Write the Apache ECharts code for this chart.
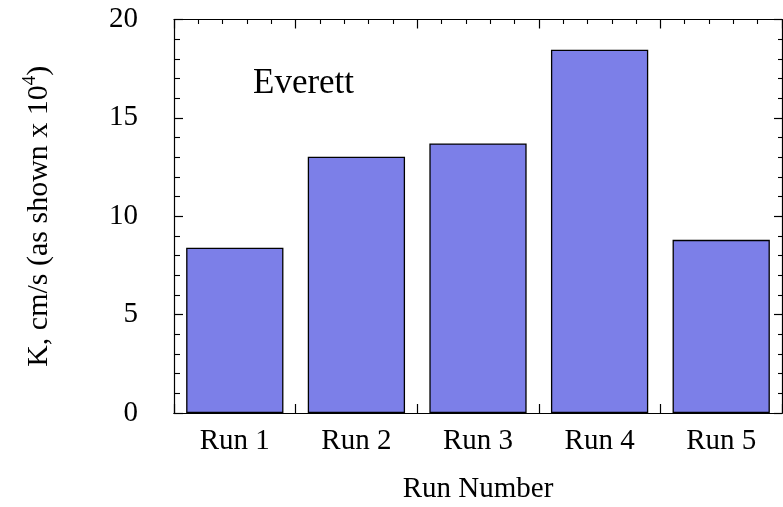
<!DOCTYPE html>
<html>
<head>
<meta charset="utf-8">
<script src="https://cdn.jsdelivr.net/npm/echarts@6/dist/echarts.min.js"></script>
<style>
  html, body { margin: 0; padding: 0; background: #fff; }
  #chart { width: 783px; height: 507px; }
</style>
</head>
<body>
<div id="chart"></div>
<script>
// Hydraulic conductivity per run (cm/s, values x 10^4)
const runs = ['Run 1', 'Run 2', 'Run 3', 'Run 4', 'Run 5'];
const conductivity = [8.4, 13.03, 13.7, 18.46, 8.8];
const yTicks = { min: 0, max: 20, step: 5 };
const siteName = 'Everett';

const serif = '"Liberation Serif", "DejaVu Serif", serif';
const ink = '#000';
// both grids share one fixed plot rectangle; outer bounds must not shrink it
const gridBox = { left: 174, top: 19.5, right: 1, bottom: 94, containLabel: false, outerBoundsMode: 'none' };

const chart = echarts.init(document.getElementById('chart'), null, { renderer: 'canvas' });

// frame lines stay on their own edge (no snapping to the other axis' zero)
const frameAxisLine = { show: true, onZero: false, lineStyle: { color: ink, width: 1.2 } };

// inward-pointing major and minor ticks
function ticks(major, minor) {
  return {
    axisTick: { show: true, inside: true, length: major, lineStyle: { color: ink, width: 1.2 } },
    minorTick: { show: true, splitNumber: 5, length: minor, lineStyle: { color: ink, width: 1.1 } }
  };
}

// plain axis used only as a frame edge / tick carrier
function frameAxis(extra) {
  return Object.assign({
    type: 'value',
    axisLine: frameAxisLine,
    axisLabel: { show: false },
    splitLine: { show: false }
  }, extra);
}

chart.setOption({
  animation: false,
  backgroundColor: '#fff',
  grid: [
    Object.assign({}, gridBox),
    Object.assign({}, gridBox)
  ],
  xAxis: [
    {
      // category axis carrying the run labels
      type: 'category',
      gridIndex: 0,
      data: runs,
      boundaryGap: true,
      axisLine: frameAxisLine,
      axisTick: { show: false },
      axisLabel: { color: ink, fontFamily: serif, fontSize: 29, margin: 14 },
      splitLine: { show: false },
      name: 'Run Number',
      nameLocation: 'middle',
      nameGap: 62,
      nameTextStyle: { color: ink, fontFamily: serif, fontSize: 29 }
    },
    // bottom frame ticks (category boundaries + minor ticks)
    frameAxis(Object.assign({ gridIndex: 1, position: 'bottom', min: 0, max: runs.length, interval: 1 },
      ticks(9, 4.5))),
    // top frame edge
    frameAxis(Object.assign({ gridIndex: 1, position: 'top', min: 0, max: runs.length, interval: 1 },
      ticks(9, 4.5)))
  ],
  yAxis: [
    Object.assign({
      type: 'value',
      gridIndex: 0,
      position: 'left',
      min: yTicks.min, max: yTicks.max, interval: yTicks.step,
      axisLine: frameAxisLine,
      axisLabel: { color: ink, fontFamily: serif, fontSize: 29, margin: 36 },
      splitLine: { show: false },
      name: '{n|K, cm/s (as shown x 10}{s|4}{n|)}',
      nameLocation: 'middle',
      nameRotate: 90,
      nameGap: 117,
      nameTextStyle: {
        color: ink,
        fontFamily: serif,
        fontSize: 30,
        rich: {
          n: { fontFamily: serif, fontSize: 30, color: ink, lineHeight: 36 },
          s: { fontFamily: serif, fontSize: 19, color: ink, lineHeight: 22, verticalAlign: 'top' }
        }
      }
    }, ticks(9, 6)),
    // right frame edge
    frameAxis(Object.assign({
      gridIndex: 1, position: 'right',
      min: yTicks.min, max: yTicks.max, interval: yTicks.step
    }, ticks(8, 4)))
  ],
  series: [
    {
      type: 'bar',
      xAxisIndex: 0,
      yAxisIndex: 0,
      data: conductivity,
      barWidth: '80%',
      itemStyle: { color: '#7c7fe8', borderColor: '#000', borderWidth: 1.3 }
    }
  ],
  graphic: [
    {
      type: 'text',
      left: 253,
      top: 66,
      style: { text: siteName, fill: ink, font: '35px ' + serif }
    }
  ]
});
</script>
</body>
</html>
